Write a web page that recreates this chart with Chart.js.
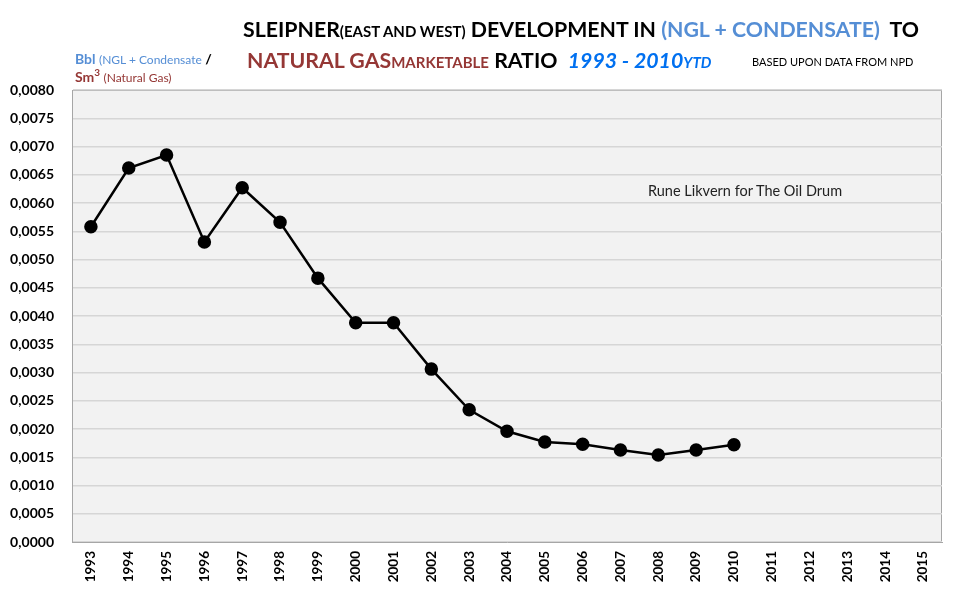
<!DOCTYPE html>
<html><head><meta charset="utf-8">
<script src="https://cdn.jsdelivr.net/npm/chart.js@4"></script>
<style>
html,body{margin:0;padding:0;background:#fff;}
#wrap{position:relative;width:960px;height:600px;font-family:Lato,"Open Sans",sans-serif;}
canvas{position:absolute;left:0;top:0;}
.t{position:absolute;white-space:nowrap;font-weight:bold;}
.blue{color:#558ED5;}
.red{color:#953735;}
</style></head><body>
<div id="wrap">
<canvas id="c" width="960" height="600"></canvas>
<div class="t" style="left:243px;top:16px;font-size:21.3px;color:#000;">SLEIPNER<span style="font-size:15px;">(EAST AND WEST)</span> DEVELOPMENT IN <span class="blue">(NGL + CONDENSATE)</span>&nbsp; TO</div>
<div class="t" style="left:247px;top:47px;font-size:21.3px;color:#000;"><span class="red">NATURAL GAS<span style="font-size:15px;">MARKETABLE</span></span> RATIO&nbsp; <span style="color:#0070F0;font-style:italic;">1993 - 2010<span style="font-size:15px;">YTD</span></span></div>
<div class="t" style="left:752px;top:55px;font-size:11px;font-weight:normal;color:#000;">BASED UPON DATA FROM NPD</div>
<div class="t" style="left:75px;top:50px;font-size:14px;"><span class="blue">Bbl <span style="font-size:12px;font-weight:normal;">(NGL + Condensate</span></span> /</div>
<div class="t" style="left:75px;top:66px;font-size:14px;" ><span class="red">Sm<sup style="font-size:10px;">3</sup> <span style="font-size:12px;font-weight:normal;">(Natural Gas)</span></span></div>
<div class="t" style="left:648px;top:182px;font-size:14.5px;font-weight:normal;color:#222;">Rune Likvern for The Oil Drum</div>
</div>
<script>
const years = ["1993","1994","1995","1996","1997","1998","1999","2000","2001","2002","2003","2004","2005","2006","2007","2008","2009","2010","2011","2012","2013","2014","2015"];
const ratio = [0.00558,0.00662,0.00685,0.00531,0.00627,0.00566,0.00467,0.00388,0.00388,0.00306,0.00234,0.00196,0.00177,0.00173,0.00163,0.00154,0.00163,0.00172,null,null,null,null,null];
const yMin = 0, yMax = 0.008, yStep = 0.0005;

const bgPlugin = {
  id:'bg',
  beforeDraw(chart){
    const {ctx, chartArea:a} = chart;
    ctx.save();
    ctx.fillStyle = '#F2F2F2';
    ctx.fillRect(a.left, a.top, a.right-a.left, a.bottom-a.top);
    ctx.strokeStyle = '#A6A6A6';
    ctx.lineWidth = 1;
    ctx.strokeRect(a.left+0.5, a.top+0.5, a.right-a.left-1, a.bottom-a.top-1);
    ctx.restore();
  }
};

new Chart(document.getElementById('c'), {
  type:'line',
  data:{labels:years, datasets:[{data:ratio, borderColor:'#000', backgroundColor:'#000', borderWidth:2.5, pointRadius:5.5, pointHoverRadius:5.5, tension:0, spanGaps:false}]},
  options:{
    responsive:false, animation:false, devicePixelRatio:1,
    layout:{padding:{left:0,right:18,top:90,bottom:0}},
    plugins:{legend:{display:false}, tooltip:{enabled:false}},
    scales:{
      x:{
        offset:true,
        grid:{display:false, drawTicks:false},
        border:{display:true,color:'#A6A6A6'},
        ticks:{maxRotation:90,minRotation:90,color:'#000',font:{family:'Lato',size:13.5,weight:'bold'},padding:9,autoSkip:false},
        afterFit(s){s.height=58;}
      },
      y:{
        min:yMin,max:yMax,
        grid:{color:'#D6D6D6',lineWidth:1.5,drawTicks:false},
        border:{display:true,color:'#A6A6A6'},
        ticks:{stepSize:yStep,color:'#000',font:{family:'Lato',size:14,weight:'bold'},padding:18,
          callback:v=>v.toFixed(4).replace('.',',')},
        afterFit(s){s.width=72;}
      }
    }
  },
  plugins:[bgPlugin]
});
</script>
</body></html>
